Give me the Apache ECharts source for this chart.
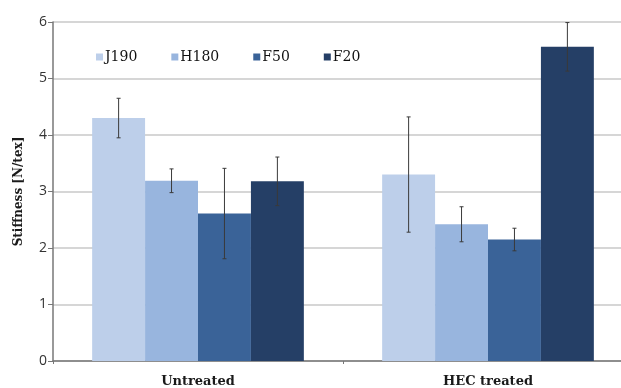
<!DOCTYPE html>
<html>
<head>
<meta charset="utf-8">
<script src="https://cdn.jsdelivr.net/npm/echarts@6/dist/echarts.min.js"></script>
<style>
  html, body { margin: 0; padding: 0; background: #fff; overflow: hidden; width: 621px; height: 388px; }
  #chart { width: 633px; height: 388px; }
</style>
</head>
<body>
<div id="chart"></div>
<script>
// Stiffness of fibre types, untreated vs HEC treated
const categories = ['Untreated', 'HEC treated'];
const seriesNames = ['J190', 'H180', 'F50', 'F20'];
const j190 = [4.30, 3.30];
const h180 = [3.19, 2.42];
const f50 = [2.61, 2.15];
const f20 = [3.18, 5.56];
// standard deviations (error bar half-lengths)
const j190Err = [0.35, 1.02];
const h180Err = [0.21, 0.31];
const f50Err = [0.80, 0.20];
const f20Err = [0.43, 0.43];
const yTicks = [0, 1, 2, 3, 4, 5, 6];

const values = [j190, h180, f50, f20];
const errors = [j190Err, h180Err, f50Err, f20Err];
const colors = ['#bdcfea', '#98b5de', '#3a6398', '#253f66'];
const CAT_GAP = 0.27;

const chart = echarts.init(document.getElementById('chart'));

const barSeries = seriesNames.map((name, s) => ({
  name: name,
  type: 'bar',
  data: values[s],
  barGap: '0%',
  barCategoryGap: (CAT_GAP * 100) + '%',
  itemStyle: { color: colors[s] },
  z: 2
}));

// error bar data: [categoryIndex, seriesIndex, low, high]
const errData = [];
values.forEach((vals, s) => {
  vals.forEach((v, c) => {
    errData.push([c, s, v - errors[s][c], v + errors[s][c]]);
  });
});

const errorSeries = {
  type: 'custom',
  name: 'error',
  data: errData,
  z: 5,
  clip: true,
  encode: { x: 0, y: [2, 3] },
  renderItem: function (params, api) {
    const c = api.value(0);
    const s = api.value(1);
    const band = api.size([1, 0])[0];
    const barW = band * (1 - CAT_GAP) / seriesNames.length;
    const center = api.coord([c, 0])[0];
    const x = center + (s - (seriesNames.length - 1) / 2) * barW;
    const lo = api.coord([c, api.value(2)])[1];
    const hi = api.coord([c, api.value(3)])[1];
    const cap = 2;
    const style = { stroke: '#3a3a3a', lineWidth: 1 };
    return {
      type: 'group',
      children: [
        { type: 'line', shape: { x1: x, y1: lo, x2: x, y2: hi }, style: style },
        { type: 'line', shape: { x1: x - cap, y1: lo, x2: x + cap, y2: lo }, style: style },
        { type: 'line', shape: { x1: x - cap, y1: hi, x2: x + cap, y2: hi }, style: style }
      ]
    };
  }
};

chart.setOption({
  animation: false,
  grid: { left: 53, right: 0, top: 22, bottom: 27, containLabel: false },
  legend: {
    data: seriesNames,
    left: 91,
    top: 45,
    itemWidth: 7,
    itemHeight: 7,
    itemGap: 34,
    icon: 'rect',
    textStyle: { fontFamily: 'DejaVu Serif', fontSize: 14, color: '#111', padding: [0, 0, 0, -3] }
  },
  xAxis: {
    type: 'category',
    data: categories,
    axisLine: { lineStyle: { color: '#777', width: 1.5 } },
    axisTick: { show: true, alignWithLabel: false, length: 3, lineStyle: { color: '#777' } },
    axisLabel: { fontFamily: 'DejaVu Serif', fontWeight: 'bold', fontSize: 13, color: '#1a1a1a', margin: 14 }
  },
  yAxis: {
    type: 'value',
    min: yTicks[0],
    max: yTicks[yTicks.length - 1],
    interval: 1,
    name: 'Stiffness [N/tex]',
    nameLocation: 'middle',
    nameGap: 28,
    nameTextStyle: { fontFamily: 'DejaVu Serif', fontWeight: 'bold', fontSize: 12, color: '#1a1a1a' },
    axisLine: { show: true, lineStyle: { color: '#777', width: 1.5 } },
    axisTick: { show: true, length: 5, lineStyle: { color: '#777' } },
    axisLabel: { fontFamily: 'Open Sans', fontSize: 14, color: '#333', margin: 6 },
    splitLine: { lineStyle: { color: '#c8c8c8', width: 1.5 } }
  },
  series: barSeries.concat([errorSeries])
});
</script>
</body>
</html>
